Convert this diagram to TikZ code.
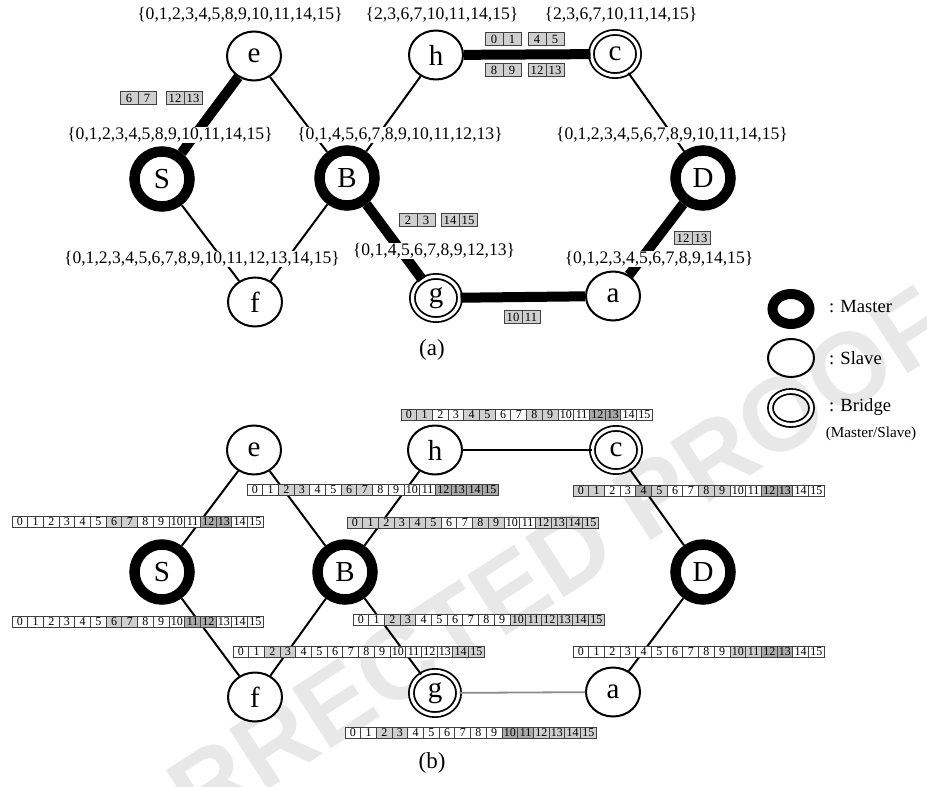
\documentclass[tikz,border=0pt]{standalone}
\usepackage{fontspec}
\setmainfont{Liberation Serif}
\newfontfamily\wmfont{Liberation Sans}
\usetikzlibrary{shapes.geometric}

\definecolor{slotlight}{HTML}{CFCFCF}
\definecolor{slotdark}{HTML}{A9A9A9}
\colorlet{sw}{white}
\colorlet{sl}{slotlight}
\colorlet{sd}{slotdark}

\newcommand\lettersize{\fontsize{14.5}{16}\selectfont}

% two shaded slot cells side by side: name, left x, centre y, first, second
\newcommand\cellpair[5]{%
  \node[cell] (#1a) at (#2+9,#3) {#4};
  \node[cell] (#1b) at (#2+27,#3) {#5};
}
% a row of 16 slot cells: name, left x, centre y, list of fills
\newcommand\slotstrip[4]{%
  \foreach \s [count=\k from 0] in {#4} {
    \node[slot, fill=\s] (#1-\k) at (#2+7.85+15.7*\k,#3) {\k};
  }
}

\begin{document}
\begin{tikzpicture}[x=0.5pt,y=-0.5pt,
  slave/.style={ellipse, draw, line width=1pt, fill=white, minimum width=27pt,
    minimum height=24.5pt, inner sep=0pt, font=\lettersize},
  master/.style={circle, draw, line width=5.25pt, fill=white, minimum size=27.5pt,
    inner sep=0pt, font=\lettersize},
  bridge/.style={ellipse, draw, double=white, double distance=1.6pt, line width=0.9pt,
    fill=white, minimum width=23.6pt, minimum height=21.6pt, inner sep=0pt, font=\lettersize},
  thin/.style={line width=1pt},
  heavy/.style={line width=5pt},
  faint/.style={line width=0.9pt, draw=black!45},
  setlabel/.style={fill=white, inner sep=0.3pt, font=\fontsize{8.8}{10}\selectfont},
  cell/.style={draw=black!75, line width=0.5pt, fill=slotlight, minimum width=9pt,
    minimum height=6.5pt, inner sep=0pt, font=\fontsize{6.3}{7}\selectfont},
  slot/.style={draw=black!75, line width=0.5pt, minimum width=7.85pt,
    minimum height=5.5pt, inner sep=0pt, font=\fontsize{6}{7}\selectfont},
  caption/.style={font=\fontsize{11.5}{13}\selectfont},
  legendtext/.style={anchor=west, font=\fontsize{9.3}{11}\selectfont}]
\useasboundingbox (0,0) rectangle (927,787);
\clip (0,0) rectangle (927,787);

% background stamp
\node[rotate=33, text=black!9, font=\wmfont\bfseries\fontsize{52}{52}\selectfont]
  (stamp) at (430,642) {UNCORRECTED PROOF};

% ---------------- (a) ----------------
\node[slave]  (ea) at (254,56)  {e};
\node[slave]  (ha) at (436,55)  {h};
\node[bridge] (ca) at (615,54)  {c};
\node[master] (Sa) at (162,179) {S};
\node[master] (Ba) at (347,178) {B};
\node[master] (Da) at (703,178) {D};
\node[slave]  (fa) at (255,302) {f};
\node[bridge] (ga) at (436,298) {g};
\node[slave]  (aa) at (613,296) {a};

\draw[heavy] (ea) -- (Sa);
\draw[thin]  (ea) -- (Ba);
\draw[thin]  (ha) -- (Ba);
\draw[heavy] (ha) -- (ca);
\draw[thin]  (ca) -- (Da);
\draw[thin]  (Sa) -- (fa);
\draw[thin]  (Ba) -- (fa);
\draw[heavy] (Ba) -- (ga);
\draw[heavy] (Da) -- (aa);
\draw[heavy] (ga) -- (aa);

\node[setlabel] (Le) at (240,15)  {\{0,1,2,3,4,5,8,9,10,11,14,15\}};
\node[setlabel] (Lh) at (442,15)  {\{2,3,6,7,10,11,14,15\}};
\node[setlabel] (Lc) at (621,15)  {\{2,3,6,7,10,11,14,15\}};
\node[setlabel] (LS) at (170,135) {\{0,1,2,3,4,5,8,9,10,11,14,15\}};
\node[setlabel] (LB) at (400,135) {\{0,1,4,5,6,7,8,9,10,11,12,13\}};
\node[setlabel] (LD) at (672,135) {\{0,1,2,3,4,5,6,7,8,9,10,11,14,15\}};
\node[setlabel] (Lf) at (202,259) {\{0,1,2,3,4,5,6,7,8,9,10,11,12,13,14,15\}};
\node[setlabel] (Lg) at (434,251) {\{0,1,4,5,6,7,8,9,12,13\}};
\node[setlabel] (La) at (659,259) {\{0,1,2,3,4,5,6,7,8,9,14,15\}};

\cellpair{es1}{120}{98}{6}{7}
\cellpair{es2}{166}{98}{12}{13}
\cellpair{hc1}{485}{39}{0}{1}
\cellpair{hc2}{528}{39}{4}{5}
\cellpair{hc3}{485}{70}{8}{9}
\cellpair{hc4}{528}{70}{12}{13}
\cellpair{bg1}{399}{220}{2}{3}
\cellpair{bg2}{441}{220}{14}{15}
\cellpair{da1}{674}{238}{12}{13}
\cellpair{ga1}{504}{317}{10}{11}

\node[caption] (capa) at (432,350) {(a)};

% legend
\node[ellipse, draw, line width=5pt, minimum width=18.5pt, minimum height=15pt] (lm) at (791,309) {};
\node[ellipse, draw, line width=1pt, minimum width=23pt, minimum height=19pt] (ls) at (791,358) {};
\node[ellipse, draw, double=white, double distance=1.6pt, line width=0.9pt,
  minimum width=20.5pt, minimum height=16.5pt] (lb) at (791,408) {};
\node[legendtext] (tm) at (822,307) {: Master};
\node[legendtext] (ts) at (822,358) {: Slave};
\node[legendtext] (tb) at (822,407) {: Bridge};
\node[font=\fontsize{7.6}{9}\selectfont] (tms) at (871,434) {(Master/Slave)};

% ---------------- (b) ----------------
\node[slave]  (eb) at (254,450) {e};
\node[slave]  (hb) at (435,450) {h};
\node[bridge] (cb) at (616,450) {c};
\node[master] (Sb) at (162,572) {S};
\node[master] (Bb) at (345,572) {B};
\node[master] (Db) at (703,572) {D};
\node[slave]  (fb) at (255,697) {f};
\node[bridge] (gb) at (435,693) {g};
\node[slave]  (ab) at (613,692) {a};

\draw[thin]  (eb) -- (Sb);
\draw[thin]  (eb) -- (Bb);
\draw[thin]  (hb) -- (Bb);
\draw[thin]  (hb) -- (cb);
\draw[thin]  (cb) -- (Db);
\draw[thin]  (Sb) -- (fb);
\draw[thin]  (Bb) -- (fb);
\draw[thin]  (Bb) -- (gb);
\draw[thin]  (Db) -- (ab);
\draw[faint] (gb) -- (ab);

\slotstrip{sh}{401}{415}{sl,sl,sw,sw,sl,sl,sw,sw,sl,sl,sw,sw,sd,sd,sw,sw}
\slotstrip{seb}{247}{490}{sw,sw,sl,sl,sw,sw,sl,sl,sw,sw,sw,sw,sd,sd,sd,sd}
\slotstrip{sc}{573}{491}{sl,sl,sw,sw,sd,sl,sw,sw,sl,sl,sw,sw,sd,sd,sw,sw}
\slotstrip{sbh}{347}{523}{sl,sl,sl,sl,sl,sl,sw,sw,sl,sl,sw,sw,sl,sl,sl,sl}
\slotstrip{sst}{12}{522}{sw,sw,sw,sw,sw,sw,sl,sl,sw,sw,sw,sw,sd,sd,sw,sw}
\slotstrip{ssb}{12}{622}{sw,sw,sw,sw,sw,sw,sl,sl,sw,sw,sw,sd,sd,sw,sw,sw}
\slotstrip{sbg}{353}{620}{sw,sw,sl,sl,sw,sw,sw,sw,sw,sw,sl,sl,sl,sl,sl,sl}
\slotstrip{sf}{233}{652}{sw,sw,sl,sl,sw,sw,sw,sw,sw,sw,sw,sw,sw,sw,sl,sl}
\slotstrip{sa}{573}{652}{sw,sw,sw,sw,sw,sw,sw,sw,sw,sw,sl,sl,sd,sd,sw,sw}
\slotstrip{sg}{345}{733}{sw,sw,sl,sl,sw,sw,sw,sw,sw,sw,sd,sd,sl,sl,sl,sl}

\node[caption] (capb) at (432,763) {(b)};
\end{tikzpicture}
\end{document}
